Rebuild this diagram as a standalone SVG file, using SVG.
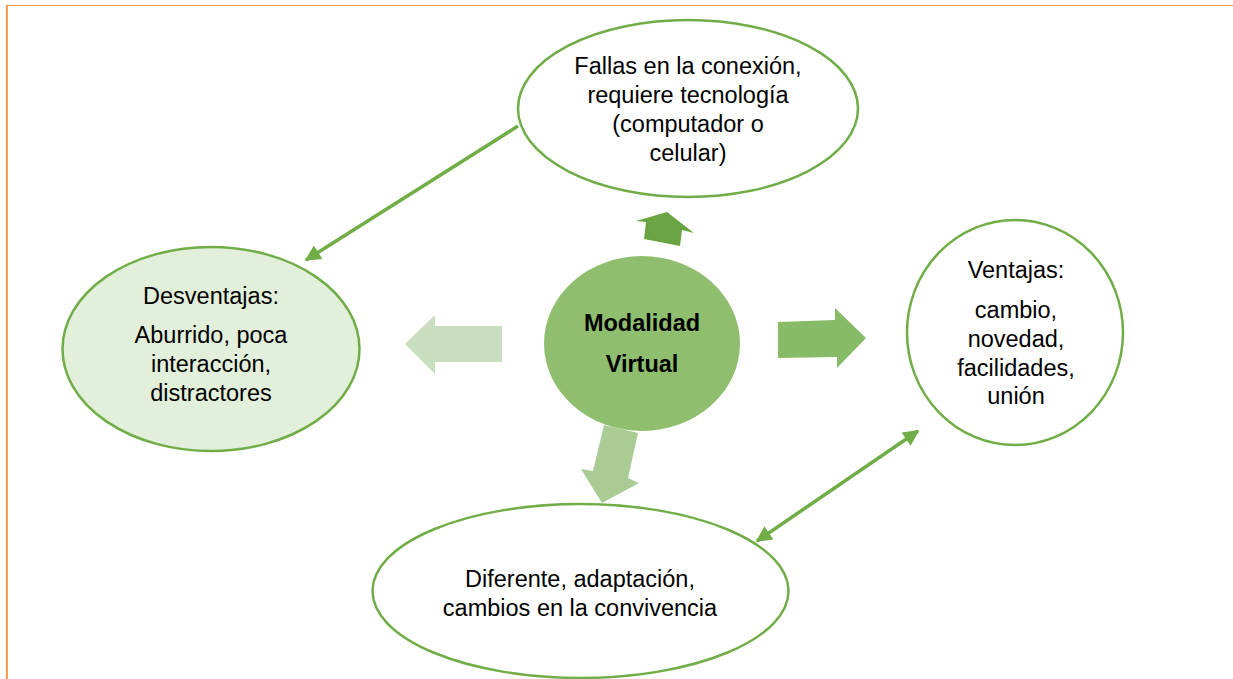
<svg xmlns="http://www.w3.org/2000/svg" width="1233" height="679" viewBox="0 0 1233 679">
<style>
  .node { stroke: #70ad47; stroke-width: 2.5; }
  .txt { font-family: "Liberation Sans", Arial, sans-serif; font-size: 23.5px; fill: #000; text-anchor: middle; }
  .bold { font-weight: bold; }
  .conn { stroke: #70ad47; stroke-width: 3.5; fill: none; }
</style>
<defs>
  <marker id="ah" viewBox="0 0 10 10" refX="9" refY="5" markerWidth="18" markerHeight="16" markerUnits="userSpaceOnUse" orient="auto-start-reverse">
    <path d="M0,0 L10,5 L0,10 z" fill="#70ad47"/>
  </marker>
</defs>
<rect x="0" y="0" width="1233" height="679" fill="#ffffff"/>
<g id="border">
  <line x1="6" y1="5.5" x2="1233" y2="5.5" stroke="#f79646" stroke-width="1.2"/>
  <line x1="6.9" y1="5" x2="6.9" y2="679" stroke="#f79646" stroke-width="2"/>
</g>
<g id="connectors">
  <line class="conn" x1="518" y1="126" x2="306" y2="260" marker-end="url(#ah)"/>
  <line class="conn" x1="918" y1="431" x2="757" y2="541" marker-start="url(#ah)" marker-end="url(#ah)"/>
  <polygon id="arrow-up" points="644,239 646,222 636,221 667,212 694,233 682,230 680,246" fill="#6aa442"/>
  <polygon id="arrow-right" points="778,322 835,320 835,308 866,338 837,368 837,357 778,358" fill="#88bb68"/>
  <polygon id="arrow-down" points="604,425 638,433 628,478 639,483 602,503 581,469 593,471" fill="#a9cc94"/>
  <polygon id="arrow-left" points="405,344 435,315 435,326 502,326 502,362 435,362 435,374" fill="#c9ddbf"/>
</g>
<g id="node-top">
  <ellipse class="node" cx="688" cy="108.5" rx="170" ry="88.5" fill="#ffffff"/>
  <text class="txt" x="688" y="74">Fallas en la conexión,</text>
  <text class="txt" x="688" y="103">requiere tecnología</text>
  <text class="txt" x="688" y="132">(computador o</text>
  <text class="txt" x="688" y="161">celular)</text>
</g>
<g id="node-left">
  <ellipse class="node" cx="211" cy="349" rx="148.5" ry="102" fill="#e2efda"/>
  <text class="txt" x="211" y="304">Desventajas:</text>
  <text class="txt" x="211" y="343">Aburrido, poca</text>
  <text class="txt" x="211" y="372">interacción,</text>
  <text class="txt" x="211" y="401">distractores</text>
</g>
<g id="node-center">
  <ellipse cx="642" cy="343.5" rx="98" ry="87.5" fill="#8fbf6e"/>
  <text class="txt bold" x="642" y="331">Modalidad</text>
  <text class="txt bold" x="642" y="372">Virtual</text>
</g>
<g id="node-right">
  <ellipse class="node" cx="1015" cy="332.5" rx="108" ry="112.5" fill="#ffffff"/>
  <text class="txt" x="1016" y="278">Ventajas:</text>
  <text class="txt" x="1016" y="318">cambio,</text>
  <text class="txt" x="1016" y="347">novedad,</text>
  <text class="txt" x="1016" y="376">facilidades,</text>
  <text class="txt" x="1016" y="404">unión</text>
</g>
<g id="node-bottom">
  <ellipse class="node" cx="580.5" cy="591" rx="208" ry="87" fill="#ffffff"/>
  <text class="txt" x="580" y="587">Diferente, adaptación,</text>
  <text class="txt" x="580" y="616">cambios en la convivencia</text>
</g>
</svg>
